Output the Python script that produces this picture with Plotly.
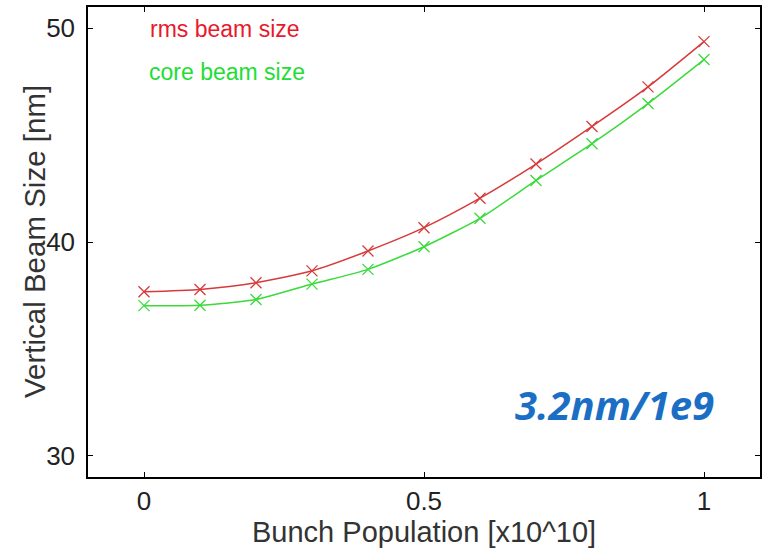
import plotly.graph_objects as go

population = [0.0, 0.1, 0.2, 0.3, 0.4, 0.5, 0.6, 0.7, 0.8, 0.9, 1.0]
rms_size = [37.67, 37.78, 38.09, 38.65, 39.58, 40.67, 42.05, 43.65, 45.41, 47.26, 49.38]
core_size = [37.02, 37.04, 37.31, 38.03, 38.72, 39.78, 41.11, 42.88, 44.60, 46.48, 48.54]
x_ticks = [0, 0.5, 1]
x_tick_labels = ["0", "0.5", "1"]
y_ticks = [30, 40, 50]
y_tick_labels = ["30", "40", "50"]

fig = go.Figure()
fig.add_trace(go.Scatter(
    x=population, y=rms_size, mode="lines+markers", name="rms beam size",
    line=dict(color="#d63a3a", width=1.5, shape="spline", smoothing=0.6),
    marker=dict(symbol="x-thin-open", size=11, line=dict(color="#c97b7b", width=1.3)),
))
fig.add_trace(go.Scatter(
    x=population, y=core_size, mode="lines+markers", name="core beam size",
    line=dict(color="#3ada3a", width=1.5, shape="spline", smoothing=0.6),
    marker=dict(symbol="x-thin-open", size=11, line=dict(color="#6fd86f", width=1.3)),
))

axis_common = dict(
    showline=True, linecolor="black", linewidth=1.5, mirror="ticks",
    ticks="inside", ticklen=5, tickwidth=1.2, tickcolor="black",
    showgrid=False, zeroline=False,
    tickfont=dict(family="Liberation Sans, Arial, sans-serif", size=26, color="#222222"),
)
fig.update_xaxes(range=[-0.1, 1.1], tickvals=x_ticks, ticktext=x_tick_labels,
                 ticklabelstandoff=0, **axis_common)
fig.update_yaxes(range=[29, 51], tickvals=y_ticks, ticktext=y_tick_labels,
                 ticklabelstandoff=6, **axis_common)

fig.add_annotation(text="Bunch Population [x10^10]", xref="paper", yref="paper",
                   x=0.5, y=0, yshift=-55, xanchor="center", yanchor="middle",
                   showarrow=False,
                   font=dict(family="Liberation Sans, Arial, sans-serif", size=29, color="#333333"))
fig.add_annotation(text="Vertical Beam Size [nm]", xref="paper", yref="paper",
                   x=0, y=0.5, xshift=-54, xanchor="center", yanchor="middle",
                   textangle=-90, showarrow=False,
                   font=dict(family="Liberation Sans, Arial, sans-serif", size=29.5, color="#333333"))
fig.add_annotation(text="rms beam size", x=0.008, y=49.95, xanchor="left", yanchor="middle",
                   showarrow=False,
                   font=dict(family="Liberation Sans, Arial, sans-serif", size=23, color="#e8192c"))
fig.add_annotation(text="core beam size", x=0.005, y=47.95, xanchor="left", yanchor="middle",
                   showarrow=False,
                   font=dict(family="Liberation Sans, Arial, sans-serif", size=23, color="#22dd33"))
fig.add_annotation(text="<b><i>3.2nm/1e9</i></b>", x=0.84, y=32.39, xanchor="center", yanchor="middle",
                   showarrow=False,
                   font=dict(family="Open Sans, sans-serif", size=40, color="#1a6fc4"))

fig.update_layout(
    width=765, height=552,
    margin=dict(l=88, r=3, t=7, b=75),
    paper_bgcolor="white", plot_bgcolor="white",
    showlegend=False,
)
fig.write_html("out.html", config={"displayModeBar": False},
               post_script="document.body.style.margin='0';document.body.style.overflow='hidden';")
